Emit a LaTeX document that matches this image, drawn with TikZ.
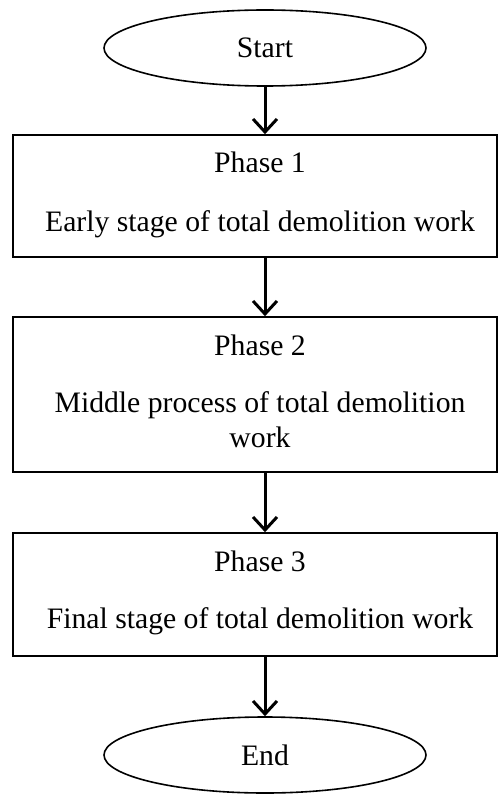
\documentclass[tikz,border=0pt]{standalone}
\usepackage{fontspec}
\setmainfont{Liberation Serif}
\usetikzlibrary{shapes.geometric,arrows.meta}
\begin{document}
\begin{tikzpicture}[x=1pt,y=-1pt,
  term/.style={draw,line width=1.6pt,ellipse,minimum width=322pt,minimum height=76pt,inner sep=0pt,font=\fontsize{29.7}{34}\selectfont},
  phasebox/.style={draw,line width=1.6pt,rectangle,minimum width=484pt,inner sep=0pt},
  txt/.style={anchor=base,inner sep=0pt,font=\fontsize{29.7}{34}\selectfont},
  arr/.style={line width=3pt,-{Straight Barb[length=13pt,width=24pt]}}]
\useasboundingbox (0,0) rectangle (498,794);
\node[term] (start) at (265,48) {Start};
\node[phasebox,minimum height=122pt] (b1) at (255,196) {};
\node[phasebox,minimum height=155pt] (b2) at (255,394.5) {};
\node[phasebox,minimum height=123pt] (b3) at (255,594.5) {};
\node[term] (end) at (265,755) {End};
\node[txt] (p1) at (260,173) {Phase 1};
\node[txt] (d1) at (260,232) {Early stage of total demolition work};
\node[txt] (p2) at (260,355) {Phase 2};
\node[txt] (d2a) at (260,412) {Middle process of total demolition};
\node[txt] (d2b) at (260,447) {work};
\node[txt] (p3) at (260,571) {Phase 3};
\node[txt] (d3) at (260,628) {Final stage of total demolition work};
\draw[arr] (start.south) -- (start.south |- b1.north);
\draw[arr] (b1.south -| start) -- (b2.north -| start);
\draw[arr] (b2.south -| start) -- (b3.north -| start);
\draw[arr] (b3.south -| start) -- (end.north);
\end{tikzpicture}
\end{document}
